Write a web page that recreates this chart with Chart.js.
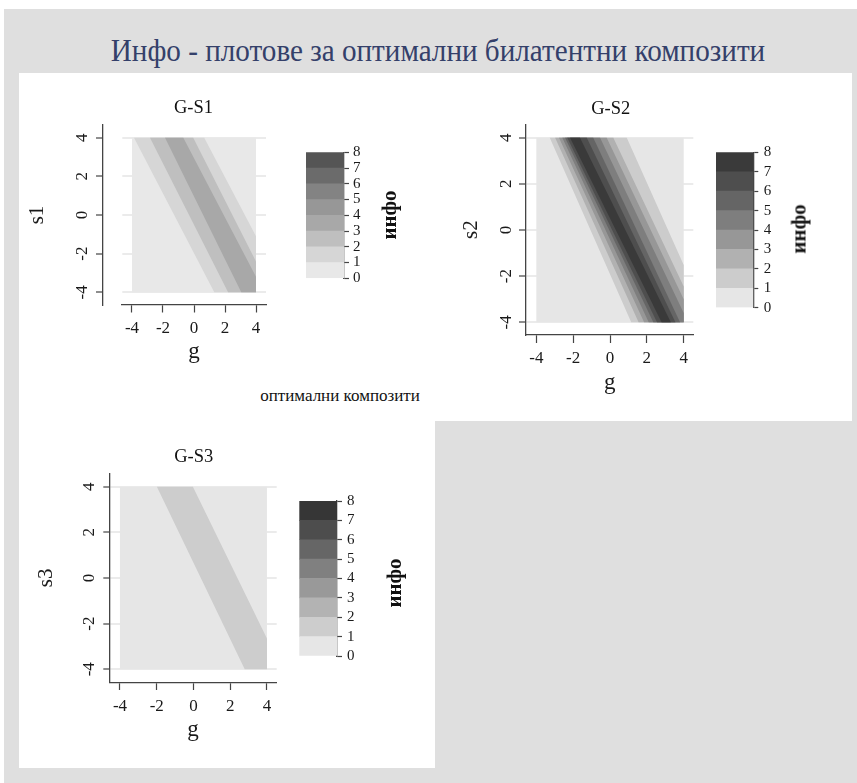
<!DOCTYPE html>
<html lang="bg">
<head>
<meta charset="utf-8">
<title>Инфо - плотове за оптимални билатентни композити</title>
<script src="https://cdn.jsdelivr.net/npm/chart.js@4.4.1/dist/chart.umd.min.js"></script>
<style>
  html, body { margin: 0; padding: 0; background: #ffffff; }
  #page { position: relative; width: 857px; height: 783px; overflow: hidden;
          font-family: "Liberation Serif", "DejaVu Serif", serif; color: #111; }
  #frame { position: absolute; left: 4px; top: 9px; right: 0; bottom: 0; background: #dfdfdf; }
  .sheet { position: absolute; background: #ffffff; }
  canvas { position: absolute; }
  .lbl { position: absolute; white-space: nowrap; line-height: 1; transform: translate(-50%, -50%); }
  .vert { transform: translate(-50%, -50%) rotate(-90deg); }
  .head { transform: translate(-50%, -50%) scaleX(0.94); }
</style>
</head>
<body>
<div id="page">
  <div id="frame"></div>
  <div class="sheet" style="left:19px;top:73px;width:833px;height:348px;"></div>
  <div class="sheet" style="left:19px;top:420px;width:416px;height:348px;"></div>

  <canvas id="gs1" width="275" height="292" style="left:20px;top:88px;"></canvas>
  <canvas id="gs1bar" width="80" height="170" style="left:300px;top:127px;"></canvas>
  <canvas id="gs2" width="260" height="320" style="left:445px;top:90px;"></canvas>
  <canvas id="gs2bar" width="80" height="200" style="left:710px;top:127px;"></canvas>
  <canvas id="gs3" width="265" height="320" style="left:25px;top:440px;"></canvas>
  <canvas id="gs3bar" width="80" height="200" style="left:293px;top:476px;"></canvas>

  <div class="lbl head" style="left:437.5px;top:50px;font-size:31px;color:#34406a;">Инфо - плотове за оптимални билатентни композити</div>
  <div class="lbl" style="left:340px;top:395px;font-size:17px;">оптимални композити</div>
  <div class="lbl" style="left:193.5px;top:106.5px;font-size:18.5px;">G-S1</div>
  <div class="lbl" style="left:610.7px;top:107.5px;font-size:18.5px;">G-S2</div>
  <div class="lbl" style="left:193.7px;top:456.3px;font-size:18.5px;">G-S3</div>
  <div class="lbl vert" style="left:389px;top:215px;font-size:21px;font-weight:bold;">инфо</div>
  <div class="lbl vert" style="left:799px;top:229px;font-size:21px;font-weight:bold;">инфо</div>
  <div class="lbl vert" style="left:394px;top:583px;font-size:21px;font-weight:bold;">инфо</div>
</div>

<script>
// ---- data ---------------------------------------------------------------
const gTicks = [-4, -2, 0, 2, 4];
const sTicks = [-4, -2, 0, 2, 4];
const infoLevels = [0, 1, 2, 3, 4, 5, 6, 7, 8];

// whole (g, s) grid of a panel: инфо between 0 and 1
const gsDomain = [[-4, 4], [4, 4], [4, -4], [-4, -4]];

// outlines (g, s) of the regions where инфо ≥ 1, ≥ 2, ...
const gs1Regions = [
  [[-3.87, 4], [0.66, 4], [4, -1.1], [4, -4], [1.31, -4]],
  [[-2.84, 4], [-0.05, 4], [4, -2.4], [4, -4], [2.2, -4]],
  [[-1.87, 4], [-0.69, 4], [4, -3.2], [4, -4], [3.05, -4]]
];
const gs2Regions = [
  [[-3.27, 4], [0.91, 4], [4, -1.52], [4, -4], [1.15, -4]],
  [[-2.98, 4], [0.18, 4], [4, -2.45], [4, -4], [1.55, -4]],
  [[-2.77, 4], [-0.18, 4], [4, -3.0], [4, -4], [1.85, -4]],
  [[-2.59, 4], [-0.54, 4], [4, -3.6], [4, -4], [2.1, -4]],
  [[-2.44, 4], [-0.91, 4], [3.8, -4], [2.35, -4]],
  [[-2.32, 4], [-1.26, 4], [3.55, -4], [2.55, -4]],
  [[-2.17, 4], [-1.63, 4], [3.3, -4], [2.8, -4]]
];
const gs3Regions = [
  [[-1.99, 4], [-0.03, 4], [4, -2.65], [4, -4], [2.79, -4]]
];

// ---- styles -------------------------------------------------------------
const gs1Grays = ['#e8e8e8', '#d6d6d6', '#bfbfbf', '#a8a8a8', '#979797', '#838383', '#6b6b6b', '#555555'];
const gs2Grays = ['#e6e6e6', '#cccccc', '#b1b1b1', '#979797', '#7e7e7e', '#656565', '#4e4e4e', '#3a3a3a'];
const gs3Grays = ['#e6e6e6', '#cdcdcd', '#b3b3b3', '#999999', '#808080', '#666666', '#4d4d4d', '#363636'];

const SERIF = '"Liberation Serif", "DejaVu Serif", serif';
const INK = '#1a1a1a';
const AXIS = '#444444';

function canvasBox(cv) {
  return { x: parseFloat(cv.style.left), y: parseFloat(cv.style.top), w: cv.width, h: cv.height };
}

function textWidth(str, px) {
  const ctx = document.createElement('canvas').getContext('2d');
  ctx.font = px + 'px ' + SERIF;
  return ctx.measureText(str).width;
}

// filled-band panel: page-coordinate layout in `ax`
function contourPanel(id, regions, grays, ax) {
  const cv = document.getElementById(id);
  const box = canvasBox(cv);
  const a = ax.area;
  const tickPx = 17, yTitlePx = 21, xTitlePx = 23;
  const widest = Math.max(...sTicks.map(v => textWidth(String(v), tickPx)));
  const yAxisX = a.l - ax.shift;

  const datasets = [gsDomain, ...regions].map((poly, k) => ({
    data: poly.map(([g, s]) => ({ x: g, y: s })),
    backgroundColor: grays[k],
    borderWidth: 0,
    pointRadius: 0,
    tension: 0,
    fill: 'shape',
    order: regions.length + 1 - k
  }));

  new Chart(cv, {
    type: 'line',
    data: { datasets },
    options: {
      responsive: false,
      animation: false,
      events: [],
      layout: { padding: { left: 0, top: a.t - box.y, right: box.x + box.w - a.r, bottom: 0 } },
      plugins: { legend: { display: false }, tooltip: { enabled: false } },
      scales: {
        x: {
          type: 'linear', min: ax.gLim[0], max: ax.gLim[1],
          afterBuildTicks: sc => { sc.ticks = gTicks.map(v => ({ value: v })); },
          afterFit: sc => { sc.height = box.y + box.h - a.b; },
          ticks: { maxRotation: 0, minRotation: 0, autoSkip: false, color: INK,
                   font: { family: SERIF, size: tickPx },
                   padding: ax.xLabelY - a.b - ax.tlx - tickPx * 0.6 },
          grid: { drawOnChartArea: false, drawTicks: true, tickLength: ax.tlx,
                  tickColor: AXIS, tickWidth: 1.2 },
          border: { display: true, color: AXIS, width: 1.3 },
          title: { display: true, text: 'g', color: INK, font: { family: SERIF, size: xTitlePx },
                   padding: { top: 0, bottom: box.y + box.h - ax.gTitleY - xTitlePx * 0.6 } }
        },
        y: {
          type: 'linear', min: ax.sLim[0], max: ax.sLim[1],
          afterBuildTicks: sc => { sc.ticks = sTicks.map(v => ({ value: v })); },
          afterFit: sc => { sc.width = a.l - box.x; },
          ticks: { minRotation: 90, maxRotation: 90, crossAlign: 'center', autoSkip: false, color: INK,
                   font: { family: SERIF, size: tickPx },
                   padding: yAxisX - ax.tly - widest / 2 - ax.yLabelX },
          grid: { drawOnChartArea: true, color: '#ebebeb', lineWidth: 2, drawTicks: true,
                  tickLength: ax.tly, tickColor: AXIS, tickWidth: 1.2 },
          border: { display: true, color: AXIS, width: 1.3 },
          title: { display: true, text: ax.sName, color: INK, font: { family: SERIF, size: yTitlePx },
                   padding: { top: ax.sTitleX - (box.x - ax.shift) - yTitlePx * 0.6, bottom: 0 } }
        }
      }
    },
    plugins: [{
      id: 'detachedAxis',
      afterLayout(chart) {
        const s = chart.scales.y;
        s.left -= ax.shift;
        s.right -= ax.shift;
      }
    }]
  });
}

// colour key: one floating bar per инфо band
function colorKey(id, grays, cb) {
  const cv = document.getElementById(id);
  const box = canvasBox(cv);
  const a = cb.area;
  const datasets = grays.map((c, i) => ({
    data: [[infoLevels[i], infoLevels[i + 1]]],
    backgroundColor: c,
    borderWidth: 0,
    barPercentage: 1,
    categoryPercentage: 1,
    grouped: false
  }));
  new Chart(cv, {
    type: 'bar',
    data: { labels: [''], datasets },
    options: {
      responsive: false,
      animation: false,
      events: [],
      layout: { padding: { left: a.l - box.x, top: a.t - box.y, right: 0, bottom: box.y + box.h - a.b } },
      plugins: { legend: { display: false }, tooltip: { enabled: false } },
      scales: {
        x: { display: false },
        y: {
          position: 'right', min: infoLevels[0], max: infoLevels[infoLevels.length - 1],
          afterBuildTicks: sc => { sc.ticks = infoLevels.map(v => ({ value: v })); },
          afterFit: sc => { sc.width = box.x + box.w - a.r; },
          ticks: { autoSkip: false, color: INK, font: { family: SERIF, size: 15 }, padding: cb.pad },
          grid: { drawOnChartArea: false, tickLength: 5, tickColor: AXIS, tickWidth: 1.2 },
          border: { display: true, color: AXIS, width: 1.3 }
        }
      }
    }
  });
}

contourPanel('gs1', gs1Regions, gs1Grays, {
  area: { l: 122, t: 125, r: 266, b: 305 }, gLim: [-4.645, 4.645], sLim: [-4.657, 4.657],
  shift: 19, tly: 7, tlx: 7.5, yLabelX: 82.7, xLabelY: 328.8, sTitleX: 37.5, gTitleY: 352, sName: 's1'
});
colorKey('gs1bar', gs1Grays, { area: { l: 306, t: 152.3, r: 344, b: 278.3 }, pad: 4 });

contourPanel('gs2', gs2Regions, gs2Grays, {
  area: { l: 526, t: 124.3, r: 693.3, b: 335 }, gLim: [-4.56, 4.52], sLim: [-4.55, 4.58],
  shift: 0, tly: 7, tlx: 8, yLabelX: 506.7, xLabelY: 358.3, sTitleX: 471.7, gTitleY: 382.5, sName: 's2'
});
colorKey('gs2bar', gs2Grays, { area: { l: 716, t: 152.3, r: 753.3, b: 307.7 }, pad: 5.5 });

contourPanel('gs3', gs3Regions, gs3Grays, {
  area: { l: 109.3, t: 473.3, r: 276.7, b: 682.3 }, gLim: [-4.58, 4.53], sLim: [-4.57, 4.587],
  shift: 0, tly: 6, tlx: 7.7, yLabelX: 90, xLabelY: 706.7, sTitleX: 46.7, gTitleY: 730, sName: 's3'
});
colorKey('gs3bar', gs3Grays, { area: { l: 299.3, t: 501, r: 337, b: 656 }, pad: 5 });
</script>
</body>
</html>
